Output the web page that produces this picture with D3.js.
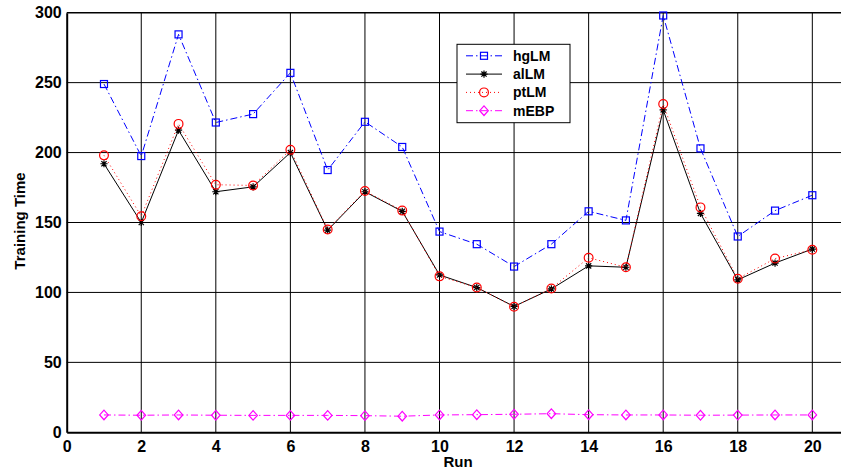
<!DOCTYPE html>
<html>
<head>
<meta charset="utf-8">
<script src="https://cdn.jsdelivr.net/npm/d3@7"></script>
<style>
    body { margin: 0; background: #fff; }
    svg { display: block; }
    text { font-family: "Liberation Sans", Arial, Helvetica, sans-serif; font-weight: bold; fill: #000; }
</style>
</head>
<body>
<div id="chart"></div>
<script>
// values
var runs = [1, 2, 3, 4, 5, 6, 7, 8, 9, 10, 11, 12, 13, 14, 15, 16, 17, 18, 19, 20];
var hgLM = [249, 197.5, 284.5, 221.5, 227.5, 257, 187.5, 222, 204, 143.5, 134.5, 118.5, 134.5, 158, 151.5, 298, 203, 140, 158.5, 169.5];
var alLM = [192, 150, 216, 172, 175.5, 200, 144.5, 172, 158, 112.5, 103.5, 90, 102.5, 119, 118, 230.5, 156.5, 109, 121, 131];
var ptLM = [198, 154.5, 220.5, 177, 176.5, 202, 145, 172.5, 158.5, 111.5, 103.5, 89.8, 102.8, 124.8, 118, 234.7, 160.8, 109.8, 124.2, 130.5];
var mEBP = [12.4, 12.2, 12.4, 12.2, 12.1, 12.1, 12.1, 11.9, 11.5, 12.4, 12.6, 12.9, 13.3, 12.6, 12.4, 12.4, 12.2, 12.3, 12.4, 12.4];
var xTicks = [0, 2, 4, 6, 8, 10, 12, 14, 16, 18, 20];
var yTicks = [0, 50, 100, 150, 200, 250, 300];

var series = [
    {name: "hgLM", values: hgLM, color: "#0000ff", dash: "7,3,1.5,3", marker: "square"},
    {name: "alLM", values: alLM, color: "#000000", dash: null, marker: "star"},
    {name: "ptLM", values: ptLM, color: "#ff0000", dash: "1,3", marker: "circle"},
    {name: "mEBP", values: mEBP, color: "#ff00ff", dash: "7,3,1.5,3", marker: "diamond"}
];

var width = 841, height = 470;
var svg = d3.select("#chart").append("svg")
    .attr("width", width)
    .attr("height", height);

// the axes run off the right edge in the original (x up to 21)
var x = d3.scaleLinear().domain([0, 21]).range([66.7, 849.6]);
var y = d3.scaleLinear().domain([0, 300]).range([432.3, 12.7]);

// grid
svg.append("g").selectAll("line.hgrid")
    .data(yTicks.slice(1, -1))
    .enter().append("line")
    .attr("x1", x(0)).attr("x2", x(21))
    .attr("y1", function(d) { return y(d); })
    .attr("y2", function(d) { return y(d); })
    .attr("stroke", "#000").attr("stroke-width", 1);
svg.append("g").selectAll("line.vgrid")
    .data(xTicks.slice(1))
    .enter().append("line")
    .attr("y1", y(0)).attr("y2", y(300))
    .attr("x1", function(d) { return x(d); })
    .attr("x2", function(d) { return x(d); })
    .attr("stroke", "#000").attr("stroke-width", 1);

// axes
var xAxis = d3.axisBottom(x).tickValues(xTicks).tickSize(0).tickPadding(8);
var yAxis = d3.axisLeft(y).tickValues(yTicks).tickSize(0).tickPadding(5);
var gx = svg.append("g").attr("transform", "translate(0," + y(0) + ")").call(xAxis);
var gy = svg.append("g").attr("transform", "translate(" + x(0) + ",0)").call(yAxis);
[gx, gy].forEach(function(g) {
    g.select(".domain").attr("stroke", "#000").attr("stroke-width", 2);
    g.selectAll("text").attr("font-size", 16).attr("font-family", null).attr("fill", "#000");
});
gx.selectAll("text").attr("dy", "0.72em");
svg.append("line")
    .attr("x1", x(0)).attr("x2", x(21))
    .attr("y1", y(300)).attr("y2", y(300))
    .attr("stroke", "#000").attr("stroke-width", 1.5);

svg.append("text").text("Run")
    .attr("x", 458).attr("y", 467)
    .attr("text-anchor", "middle")
    .attr("font-size", 15);
svg.append("text").text("Training Time")
    .attr("transform", "translate(25," + 221 + ") rotate(-90)")
    .attr("text-anchor", "middle")
    .attr("font-size", 15);

function drawMarker(g, type, color) {
    if (type == "square") {
        g.append("rect").attr("x", -3.5).attr("y", -3.5).attr("width", 7).attr("height", 7)
            .attr("fill", "none").attr("stroke", color).attr("stroke-width", 1.2);
    } else if (type == "circle") {
        g.append("circle").attr("r", 4.4)
            .attr("fill", "none").attr("stroke", color).attr("stroke-width", 1.2);
    } else if (type == "diamond") {
        g.append("path").attr("d", "M0,-4.8L4.3,0L0,4.8L-4.3,0Z")
            .attr("fill", "none").attr("stroke", color).attr("stroke-width", 1.2);
    } else if (type == "star") {
        g.append("path").attr("d", "M-3.6,0H3.6M0,-3.6V3.6M-2.6,-2.6L2.6,2.6M-2.6,2.6L2.6,-2.6")
            .attr("stroke", color).attr("stroke-width", 1.2);
    }
}

var line = d3.line()
    .x(function(d) { return x(d[0]); })
    .y(function(d) { return y(d[1]); });

series.forEach(function(s) {
    var pts = runs.map(function(r, i) { return [r, s.values[i]]; });
    svg.append("path")
        .datum(pts)
        .attr("d", line)
        .attr("fill", "none")
        .attr("stroke", s.color)
        .attr("stroke-width", 1)
        .attr("stroke-dasharray", s.dash);
    svg.append("g").selectAll("g.mark")
        .data(pts)
        .enter().append("g")
        .attr("transform", function(d) { return "translate(" + x(d[0]) + "," + y(d[1]) + ")"; })
        .each(function() { drawMarker(d3.select(this), s.marker, s.color); });
});

// legend
var legend = svg.append("g").attr("transform", "translate(457,44.3)");
legend.append("rect")
    .attr("width", 113).attr("height", 78.4)
    .attr("fill", "#fff").attr("stroke", "#000").attr("stroke-width", 1);
series.forEach(function(s, i) {
    var ly = 11.5 + i * 18.3;
    legend.append("line")
        .attr("x1", 9).attr("x2", 45).attr("y1", ly).attr("y2", ly)
        .attr("stroke", s.color).attr("stroke-width", 1)
        .attr("stroke-dasharray", s.dash);
    var m = legend.append("g").attr("transform", "translate(27," + ly + ")");
    drawMarker(m, s.marker, s.color);
    legend.append("text").text(s.name)
        .attr("x", 56).attr("y", ly + 5)
        .attr("font-size", 14);
});
</script>
</body>
</html>
